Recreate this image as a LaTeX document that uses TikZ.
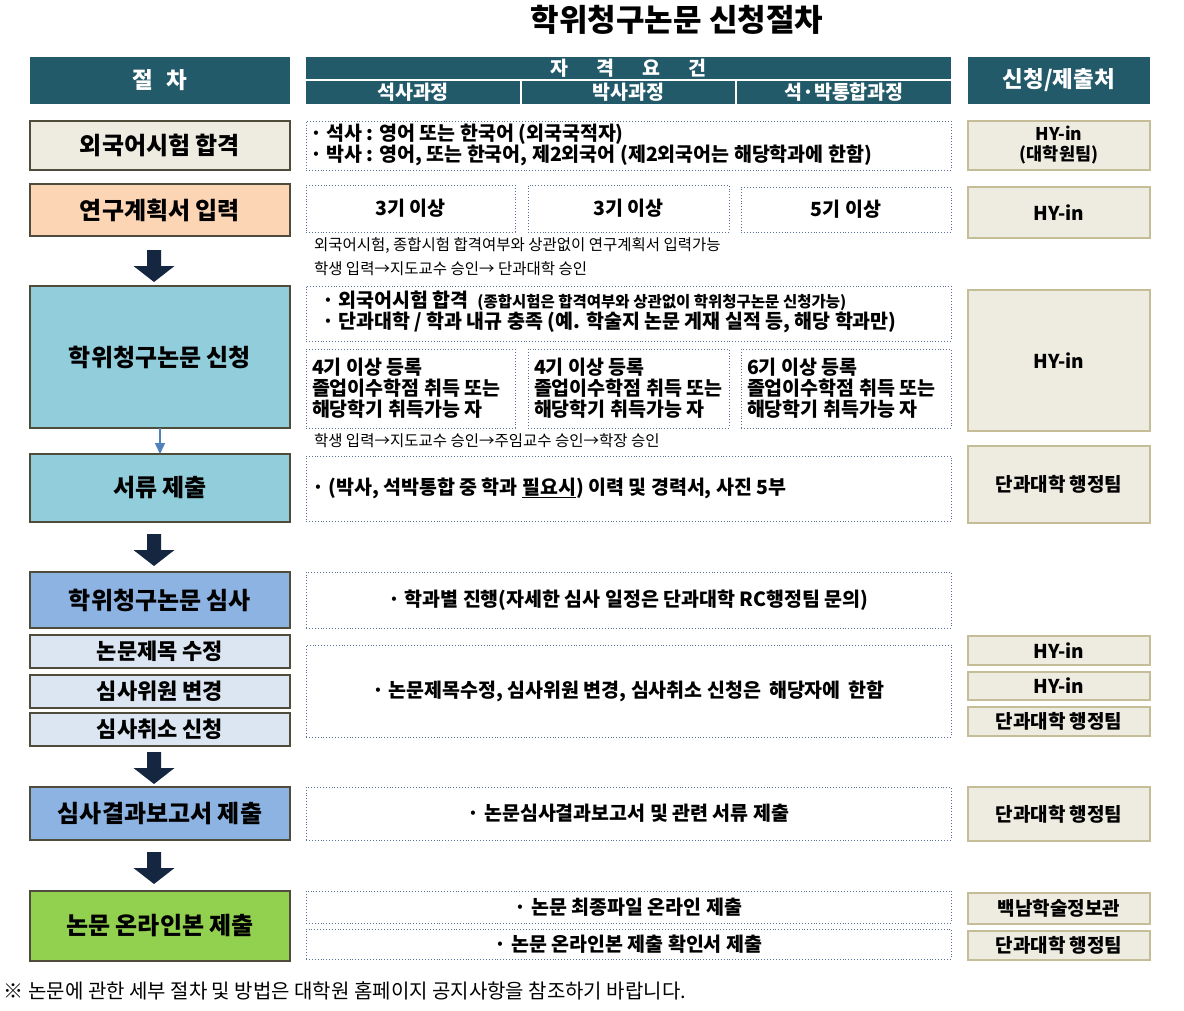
\documentclass[tikz,border=0pt]{standalone}
\usepackage{fontspec}
\setmainfont{Noto Sans CJK KR}
\usetikzlibrary{arrows.meta}
\definecolor{hdr}{RGB}{35,90,106}
\definecolor{ivory}{RGB}{238,236,225}
\definecolor{tan}{RGB}{196,189,151}
\definecolor{lborder}{RGB}{80,76,60}
\definecolor{peach}{RGB}{252,213,181}
\definecolor{aqua}{RGB}{146,205,220}
\definecolor{midblue}{RGB}{141,179,226}
\definecolor{paleblue}{RGB}{220,230,242}
\definecolor{lgreen}{RGB}{146,208,80}
\definecolor{dotc}{RGB}{90,112,150}
\definecolor{navy}{RGB}{20,38,64}
\definecolor{thinblue}{RGB}{79,129,189}
\newcommand\FTitle{\fontsize{31}{36}\selectfont\bfseries}
\newcommand\FHdr{\fontsize{22.5}{26}\selectfont\bfseries}
\newcommand\FSub{\fontsize{19.5}{22}\selectfont\bfseries}
\newcommand\FLbl{\fontsize{24}{28}\selectfont\bfseries}
\newcommand\FLblS{\fontsize{22}{25}\selectfont\bfseries}
\newcommand\FBody{\fontsize{19.5}{21}\selectfont\bfseries}
\newcommand\FRt{\fontsize{19}{22}\selectfont\bfseries}
\newcommand\FNote{\fontsize{15.5}{18}\selectfont}
\newcommand\FFoot{\fontsize{20}{24}\selectfont}
\tikzset{
  every node/.style={inner sep=0pt, outer sep=0pt},
  hbox/.style={fill=hdr, text=white, font=\FHdr},
  hsub/.style={fill=hdr, text=white, font=\FSub, minimum height=23},
  lbox/.style={draw=lborder, line width=1.2pt, minimum width=260, font=\FLbl},
  dbox/.style={draw=dotc, dotted, line width=0.9pt},
  rbox/.style={draw=tan, fill=ivory, line width=1.3pt, minimum width=182, font=\FRt, align=center},
  body/.style={font=\FBody, anchor=west},
  note/.style={font=\FNote, anchor=west},
  downarrow/.pic={\fill[navy] (-7,0) -- (7,0) -- (7,16) -- (20.5,16) -- (0,32) -- (-20.5,16) -- (-7,16) -- cycle;}
}
\begin{document}
\begin{tikzpicture}[x=1pt,y=-1pt]
\useasboundingbox (0,0) rectangle (1184,1010);
% title
\node[font=\FTitle] (title) at (677,20) {학위청구논문 신청절차};
% header
\node[hbox, minimum width=260, minimum height=47] (hL) at (160,80.5) {절\hspace{14pt}차};
\node[hsub, minimum width=645, minimum height=22] (hTop) at (628.5,68) {자\hspace{28pt}격\hspace{28pt}요\hspace{28pt}건};
\node[hsub, minimum width=214] (hS1) at (413,92.5) {석사과정};
\node[hsub, minimum width=213] (hS2) at (628.5,92.5) {박사과정};
\node[hsub, minimum width=214] (hS3) at (844,92.5) {석·박통합과정};
\node[hbox, minimum width=182, minimum height=47] (hR) at (1059,80.5) {신청/제출처};
% row 1
\node[lbox, fill=ivory, minimum height=49] (L1) at (160,145.5) {외국어시험 합격};
\node[dbox, minimum width=645, minimum height=49] (D1) at (628.5,145.5) {};
\node[body] (t1a) at (310,134) {· 석사 : 영어 또는 한국어 (외국국적자)};
\node[body] (t1b) at (310,155) {· 박사 : 영어, 또는 한국어, 제2외국어 (제2외국어는 해당학과에 한함)};
\node[rbox, minimum height=49, font=\fontsize{17.5}{20}\selectfont\bfseries] (R1) at (1059,145.5) {HY-in\\(대학원팀)};
% row 2
\node[lbox, fill=peach, minimum height=52] (L2) at (160,210) {연구계획서 입력};
\node[dbox, minimum width=209, minimum height=47, font=\FBody] (D2a) at (410.5,208.5) {3기 이상};
\node[dbox, minimum width=201, minimum height=47, font=\FBody] (D2b) at (628.5,208.5) {3기 이상};
\node[dbox, minimum width=210, minimum height=45, font=\FBody] (D2c) at (846,209.5) {5기 이상};
\node[rbox, minimum height=51] (R2) at (1059,212.5) {HY-in};
\node[note] (n2a) at (314,245) {외국어시험, 종합시험 합격여부와 상관없이 연구계획서 입력가능};
\node[note] (n2b) at (314,269) {학생 입력→지도교수 승인→ 단과대학 승인};
\pic at (154,250) {downarrow};
% row 3
\node[lbox, fill=aqua, minimum height=142] (L3) at (160,357) {학위청구논문 신청};
\node[dbox, minimum width=645, minimum height=55] (D3) at (628.5,313.5) {};
\node[body] (t3a) at (322,301) {· 외국어시험 합격\hspace{9pt}{\FNote (종합시험은 합격여부와 상관없이 학위청구논문 신청가능)}};
\node[body] (t3b) at (322,322) {· 단과대학 / 학과 내규 충족 (예. 학술지 논문 게재 실적 등, 해당 학과만)};
\node[dbox, minimum width=209, minimum height=79] (D3a) at (410.5,388.5) {};
\node[dbox, minimum width=201, minimum height=79] (D3b) at (628.5,388.5) {};
\node[dbox, minimum width=210, minimum height=79] (D3c) at (846,388.5) {};
\node[body, align=left] (t3c) at (312,388) {4기 이상 등록\\졸업이수학점 취득 또는\\해당학기 취득가능 자};
\node[body, align=left] (t3d) at (534,388) {4기 이상 등록\\졸업이수학점 취득 또는\\해당학기 취득가능 자};
\node[body, align=left] (t3e) at (747,388) {6기 이상 등록\\졸업이수학점 취득 또는\\해당학기 취득가능 자};
\node[rbox, minimum height=141] (R3) at (1059,360.5) {HY-in};
\node[note] (n3) at (314,441) {학생 입력→지도교수 승인→주임교수 승인→학장 승인};
% row 4
\node[lbox, fill=aqua, minimum height=68] (L4) at (160,488) {서류 제출};
\draw[thinblue, line width=1.5pt, -{Triangle[width=10pt,length=11pt]}] (L3.south) -- (L4.north);
\node[dbox, minimum width=645, minimum height=65] (D4) at (628.5,488.5) {};
\node[body] (t4) at (312,488) {· (박사, 석박통합 중 학과 \underline{필요시}) 이력 및 경력서, 사진 5부};
\node[rbox, minimum height=77] (R4) at (1059,484.5) {단과대학 행정팀};
\pic at (154,534) {downarrow};
% row 5
\node[lbox, fill=midblue, minimum height=56] (L5) at (160,600) {학위청구논문 심사};
\node[dbox, minimum width=645, minimum height=56, font=\FBody] (D5) at (628.5,600) {· 학과별 진행(자세한 심사 일정은 단과대학 RC행정팀 문의)};
% row 6
\node[lbox, fill=paleblue, minimum height=33, font=\FLblS] (L6a) at (160,651.5) {논문제목 수정};
\node[lbox, fill=paleblue, minimum height=33, font=\FLblS] (L6b) at (160,691.5) {심사위원 변경};
\node[lbox, fill=paleblue, minimum height=33, font=\FLblS] (L6c) at (160,729.5) {심사취소 신청};
\node[dbox, minimum width=645, minimum height=92, font=\FBody] (D6) at (628.5,691) {· 논문제목수정, 심사위원 변경, 심사취소 신청은\hspace{8pt}해당자에\hspace{8pt}한함};
\node[rbox, minimum height=29] (R6a) at (1059,650.5) {HY-in};
\node[rbox, minimum height=28] (R6b) at (1059,686) {HY-in};
\node[rbox, minimum height=29] (R6c) at (1059,721.5) {단과대학 행정팀};
\pic at (154,752) {downarrow};
% row 7
\node[lbox, fill=midblue, minimum height=53] (L7) at (160,813.5) {심사결과보고서 제출};
\node[dbox, minimum width=645, minimum height=53, font=\FBody] (D7) at (628.5,813.5) {· 논문심사결과보고서 및 관련 서류 제출};
\node[rbox, minimum height=54] (R7) at (1059,814) {단과대학 행정팀};
\pic at (154,852) {downarrow};
% row 8
\node[lbox, fill=lgreen, minimum height=70] (L8) at (160,926) {논문 온라인본 제출};
\node[dbox, minimum width=645, minimum height=32, font=\FBody] (D8a) at (628.5,907) {· 논문 최종파일 온라인 제출};
\node[dbox, minimum width=645, minimum height=30, font=\FBody] (D8b) at (628.5,944) {· 논문 온라인본 제출 확인서 제출};
\node[rbox, minimum height=31] (R8a) at (1059,908.5) {백남학술정보관};
\node[rbox, minimum height=29] (R8b) at (1059,945.5) {단과대학 행정팀};
% footer
\node[font=\FFoot, anchor=west] (foot) at (4,991) {※ 논문에 관한 세부 절차 및 방법은 대학원 홈페이지 공지사항을 참조하기 바랍니다.};
\end{tikzpicture}
\end{document}
